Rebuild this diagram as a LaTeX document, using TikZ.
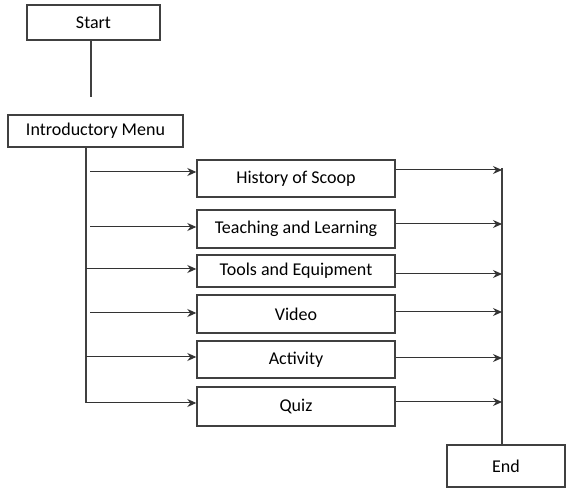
\documentclass[tikz,border=0pt]{standalone}
\usepackage{fontspec}
\setmainfont{Carlito}
\usetikzlibrary{arrows.meta}
\tikzstyle{arrow} = [line width=1pt,draw=black!80,->,>={Stealth[length=9pt,width=8pt]}]
\tikzstyle{box} = [draw=black!75,line width=1.4pt,rectangle,align=center,inner sep=0pt,font=\fontsize{18}{20}\selectfont]
\tikzstyle{trunk} = [line width=1.1pt,draw=black!75]

\begin{document}
\begin{tikzpicture}[x=1pt,y=-1pt]
            \useasboundingbox (0,0) rectangle (566,489);
            % boxes
            \node[box,minimum width=133pt,minimum height=35pt] (start) at (93.5,22.5) {Start};
            \node[box,minimum width=175pt,minimum height=32pt] (intro) at (95.5,131) {Introductory Menu};
            \node[box,minimum width=198pt,minimum height=37pt] (hist) at (296,178.5) {History of Scoop};
            \node[box,minimum width=198pt,minimum height=38pt] (teach) at (296,229) {Teaching and Learning};
            \node[box,minimum width=198pt,minimum height=32pt] (tools) at (296,271) {Tools and Equipment};
            \node[box,minimum width=198pt,minimum height=38pt] (video) at (296,314) {Video};
            \node[box,minimum width=198pt,minimum height=37pt] (act) at (296,359.5) {Activity};
            \node[box,minimum width=198pt,minimum height=39pt] (quiz) at (296,406.5) {Quiz};
            \node[box,minimum width=118pt,minimum height=42pt] (end) at (506,466) {End};
            % trunks
            \coordinate (startend) at (91,97);
            \coordinate (corner) at (86,403);
            \coordinate (join) at (502,168);
            \draw[trunk] (start.south -| startend) -- (startend);
            \draw[trunk] (intro.south -| corner) -- (corner);
            \draw[trunk] (join) -- (end.north -| join);
            % left arrows
            \coordinate (h1) at (90,172);
            \coordinate (t1) at (90,227);
            \coordinate (o1) at (86,269);
            \coordinate (v1) at (90,313);
            \coordinate (a1) at (86,357);
            \draw[arrow] (h1) -- (h1 -| hist.west);
            \draw[arrow] (t1) -- (t1 -| teach.west);
            \draw[arrow] (o1) -- (o1 -| tools.west);
            \draw[arrow] (v1) -- (v1 -| video.west);
            \draw[arrow] (a1) -- (a1 -| act.west);
            \draw[arrow] (corner) -- (corner -| quiz.west);
            % right arrows
            \coordinate (h2) at (396,170);
            \coordinate (t2) at (396,224);
            \coordinate (o2) at (396,274);
            \coordinate (v2) at (396,312);
            \coordinate (a2) at (396,358);
            \coordinate (q2) at (396,402);
            \draw[arrow] (h2) -- (h2 -| join);
            \draw[arrow] (t2) -- (t2 -| join);
            \draw[arrow] (o2) -- (o2 -| join);
            \draw[arrow] (v2) -- (v2 -| join);
            \draw[arrow] (a2) -- (a2 -| join);
            \draw[arrow] (q2) -- (q2 -| join);
        \end{tikzpicture}
\end{document}
